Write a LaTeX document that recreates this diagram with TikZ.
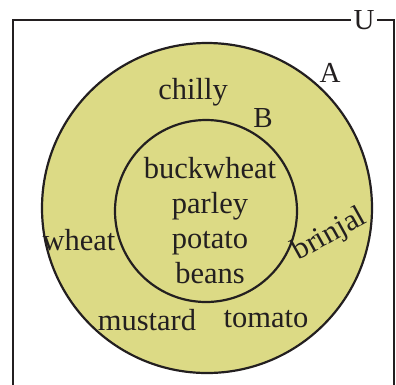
\documentclass[tikz,border=0pt]{standalone}
\usepackage{fontspec}
\setmainfont{Liberation Serif}
\usetikzlibrary{positioning}
\definecolor{setfill}{HTML}{DCDA85}
\definecolor{ink}{HTML}{231F20}
\tikzset{
  every node/.style={text=ink},
  setbox/.style={circle,draw=ink,line width=2.2pt,fill=setfill,inner sep=0pt},
  word/.style={font=\fontsize{30.5}{35}\selectfont,inner sep=1pt},
  setname/.style={font=\fontsize{29}{32}\selectfont,inner sep=1pt},
}
\begin{document}
\begin{tikzpicture}[x=1pt,y=-1pt]
  \useasboundingbox (0,0) rectangle (396,384);
  % universe
  \draw[ink,line width=2.6pt] (394,400) -- (394,20) -- (13,20) -- (13,400);
  \node[setname,fill=white,inner xsep=3pt] (U) at (364,20) {U};

  % sets
  \node[setbox,minimum size=330pt] (A) at (207,208) {};
  \node[setbox,minimum size=182pt] (B) at (206,211) {};
  \node[setname] (Alab) at (330,73) {A};
  \node[setname] (Blab) at (263,118) {B};

  % elements
  \node[word,align=center] (inner) at (210,221) {buckwheat\\parley\\potato\\beans};
  \node[word] (chilly) at (193,92) {chilly};
  \node[word] (wheat) at (79,240) {wheat};
  \node[word,rotate=29] (brinjal) at (330,235) {brinjal};
  \node[word] (mustard) at (147,320) {mustard};
  \node[word] (tomato) at (266,319) {tomato};
\end{tikzpicture}
\end{document}
